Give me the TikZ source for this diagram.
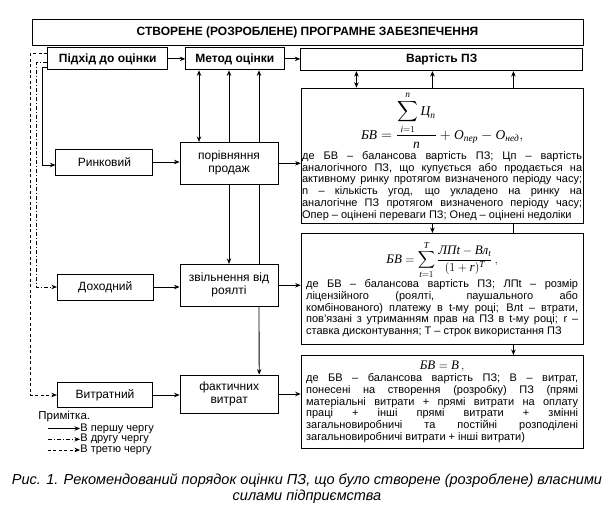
\documentclass[tikz,border=0pt]{standalone}
\usepackage{amsmath}
\usepackage[no-math]{fontspec}
\setmainfont{Liberation Sans}
\newfontfamily\serif{Liberation Serif}
\usetikzlibrary{arrows.meta,positioning}
\setlength{\parindent}{0pt}
\hyphenpenalty=10000
\exhyphenpenalty=10000
\newcommand\cy[1]{\text{\serif\itshape #1}}
\newcommand\fs[2]{\fontsize{#1}{#2}\selectfont}

\begin{document}
\begin{tikzpicture}[x=1pt,y=-1pt,>={Stealth[length=5.5pt,width=4.5pt]},line width=0.85pt,
  box/.style={draw,align=center,inner sep=1pt,font=\fs{12}{13}},
  head/.style={box,font=\fs{12}{13}\bfseries,minimum height=22pt},
  frm/.style={draw,anchor=north west,align=justify,inner ysep=1pt,font=\fs{11}{11.7}},
  lgd/.style={anchor=west,inner sep=0pt,font=\fs{11}{11}},
  dd/.style={dash pattern=on 4pt off 2pt on 1pt off 2pt},
  ds/.style={dash pattern=on 3pt off 2.5pt}]
\useasboundingbox[fill=white] (0,0) rectangle (614,508);

% top row
\node[head,minimum width=551pt,minimum height=26pt] (ttl) at (307.5,32) {СТВОРЕНЕ (РОЗРОБЛЕНЕ) ПРОГРАМНЕ ЗАБЕЗПЕЧЕННЯ};
\node[head,minimum width=120pt] (pdh) at (107.7,58.9) {Підхід до оцінки};
\node[head,minimum width=98.3pt] (mtd) at (234.8,58.9) {Метод оцінки};
\node[head,minimum width=282pt] (vrt) at (441.7,59.7) {Вартість ПЗ};

% approaches and methods
\node[box,minimum width=97pt,minimum height=26pt] (rnk) at (104.4,162) {Ринковий};
\node[box,minimum width=98pt,minimum height=42pt] (cmp) at (229,163.3) {порівняння\\продаж};
\node[box,minimum width=96pt,minimum height=26pt] (dhd) at (105.3,287) {Доходний};
\node[box,minimum width=98pt,minimum height=42pt] (zvl) at (229,285.3) {звільнення від\\роялті};
\node[box,minimum width=95.4pt,minimum height=25.4pt] (vtr) at (105,395) {Витратний};
\node[box,minimum width=98.3pt,minimum height=38pt] (fkt) at (229.2,394) {фактичних\\витрат};

% formulas
\node[frm,text width=280pt,inner xsep=1pt,minimum height=135.6pt] (f1) at (300.7,87.7) {%
\centerline{\fs{13.5}{15}$\cy{БВ}=\dfrac{\displaystyle\sum_{\cy{i}=1}^{\cy{n}}\cy{Ц}_{\cy{п}}}{\cy{n}}+\cy{О}_{\cy{пер}}-\cy{О}_{\cy{нед}},$}\par\vspace{1.5pt}
де БВ – балансова вартість ПЗ; Цп – вартість\linebreak
аналогічного ПЗ, що купується або продається на\linebreak
активному ринку протягом визначеного періоду часу;\linebreak
n – кількість угод, що укладено на ринку на\linebreak
аналогічне ПЗ протягом визначеного періоду часу;\linebreak
Опер – оцінені переваги ПЗ; Онед – оцінені недоліки};
\node[frm,text width=272pt,inner xsep=5pt,minimum height=111pt] (f2) at (300.7,233) {%
\centerline{\fs{13}{15}$\cy{БВ}=\displaystyle\sum_{\cy{t}=1}^{\cy{T}}\frac{\cy{ЛПt}-\cy{Вл}_{\cy{t}}}{(1+\cy{r})^{\cy{T}}}\,,$}\par
де БВ – балансова вартість ПЗ; ЛПt – розмір\linebreak
ліцензійного (роялті, паушального або\linebreak
комбінованого) платежу в t-му році; Влt – втрати,\linebreak
пов’язані з утриманням прав на ПЗ в t-му році; r –\linebreak
ставка дисконтування; T – строк використання ПЗ};
\node[frm,text width=272pt,inner xsep=5pt,minimum height=93pt] (f3) at (300.7,355) {%
\centerline{\fs{13}{14}$\cy{БВ}=\cy{В}\,,$}\par
де БВ – балансова вартість ПЗ; В – витрат,\linebreak
понесені на створення (розробку) ПЗ (прямі\linebreak
матеріальні витрати + прямі витрати на оплату\linebreak
праці + інші прямі витрати + змінні\linebreak
загальновиробничі та постійні розподілені\linebreak
загальновиробничі витрати + інші витрати)};

% top row arrows
\draw[->] (pdh.east) -- (mtd.west);
\draw[->] (mtd.east) -- (mtd.east -| vrt.west);
\draw[<->] ([xshift=-30pt]cmp.north) -- ([xshift=-30pt]cmp.north |- mtd.south);
\draw[->] (cmp.north) -- (cmp.north |- mtd.south);
\draw[->] ([xshift=30pt]cmp.north) -- ([xshift=30pt]cmp.north |- mtd.south);
\draw[<->] ([xshift=-85.7pt]f1.north) -- ([xshift=-85.7pt]f1.north |- vrt.south);
\draw[->] ([xshift=-9.7pt]f1.north) -- ([xshift=-9.7pt]f1.north |- vrt.south);
\draw[->] ([xshift=71.3pt]f1.north) -- ([xshift=71.3pt]f1.north |- vrt.south);

% rows
\draw[->] (rnk.east) -- (rnk.east -| cmp.west);
\draw[->] (cmp.east) -- (cmp.east -| f1.west);
\draw[->] (dhd.east) -- (dhd.east -| zvl.west);
\draw[->] (zvl.east) -- (zvl.east -| f2.west);
\draw[->] (vtr.east) -- (vtr.east -| fkt.west);
\draw[->] (fkt.east) -- (fkt.east -| f3.west);

% verticals
\draw[->] (cmp.south) -- (zvl.north);
\draw ([xshift=30pt]cmp.south) -- ([xshift=30pt]zvl.north);
\draw[->] ([xshift=30pt]zvl.south) -- ([xshift=30pt]fkt.north);
\draw[->] ([xshift=-9.7pt]f1.south) -- ([xshift=-9.7pt]f1.south |- f2.north);
\draw ([xshift=71.3pt]f1.south) -- ([xshift=71.3pt]f1.south |- f2.north);
\draw[->] ([xshift=71.3pt]f2.south) -- ([xshift=71.3pt]f2.south |- f3.north);

% left order lines
\draw[->] ([yshift=-8.7pt]pdh.west) -- ++(-5.3,0) |- ([yshift=-3pt]rnk.west);
\draw[->,dd] ([yshift=-3.7pt]pdh.west) -- ++(-11,0) |- (dhd.west);
\draw[->,ds] ([yshift=5pt]pdh.west) -- ++(-17,0) |- (vtr.west);

% legend
\node[lgd,font=\fs{11.5}{12}] (note) at (38,417) {Примітка.};
\node[lgd] (l1) at (80,428.5) {В першу чергу};
\node[lgd] (l2) at (80,439.3) {В другу чергу};
\node[lgd] (l3) at (80,450) {В третю чергу};
\coordinate (l1s) at (47.7,428.5);
\coordinate (l2s) at (47.7,439.3);
\coordinate (l3s) at (47.7,450);
\draw[->] (l1s) -- (l1.west);
\draw[->,dd] (l2s) -- (l2.west);
\draw[->,ds] (l3s) -- (l3.west);

% caption
\node[align=center,font=\fs{14.5}{16}\itshape] (cap) at (307,489) {Рис. 1. Рекомендований порядок оцінки ПЗ, що було створене (розроблене) власними\\силами підприємства};
\end{tikzpicture}
\end{document}
